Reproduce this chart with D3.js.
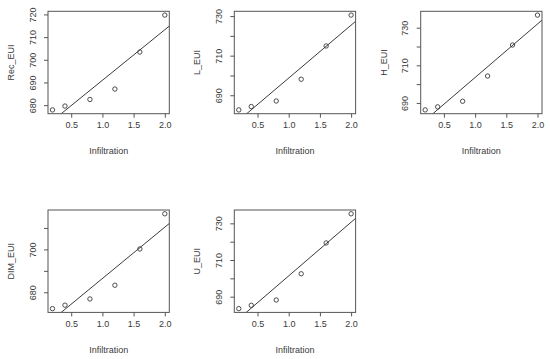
<!DOCTYPE html>
<html lang="en">
<head>
<meta charset="UTF-8">
<title>EUI vs Infiltration</title>
<script src="https://d3js.org/d3.v7.min.js"></script>
<style>
    body { margin: 0; background: #fff; }
    svg { font-family: "Liberation Sans", Arial, Helvetica, sans-serif; }
</style>
</head>
<body>
<script>
    // Data
    const infiltration = [0.2, 0.4, 0.8, 1.2, 1.6, 2.0];
    const recEUI = [677.9, 679.6, 682.5, 687.1, 703.4, 719.7];
    const lEUI   = [682.6, 684.3, 687.1, 698.1, 714.9, 730.5];
    const hEUI   = [686.3, 687.9, 690.9, 704.3, 720.8, 736.7];
    const dimEUI = [672.4, 674.0, 676.9, 683.3, 700.2, 716.6];
    const uEUI   = [683.5, 685.3, 688.2, 702.5, 719.3, 735.2];

    const panelNames = ["Rec_EUI", "L_EUI", "H_EUI", "DIM_EUI", "U_EUI"];
    const panelValues = [recEUI, lEUI, hEUI, dimEUI, uEUI];

    const xTicks = [0.5, 1.0, 1.5, 2.0];
    // y ticks every 10; only some carry a label (R drops overlapping ones)
    const yTicks = [
        [680, 690, 700, 710, 720],
        [690, 700, 710, 720, 730],
        [690, 700, 710, 720, 730],
        [680, 690, 700, 710],
        [690, 700, 710, 720, 730]
    ];
    const yLabels = [
        [680, 690, 700, 710, 720],
        [690, 710, 730],
        [690, 710, 730],
        [680, 700],
        [690, 710, 730]
    ];

    const width = 550, height = 359;
    const colLeft = [48, 234.3, 420.7];
    const rowTop = [11.3, 210];
    const boxW = 121.3, boxH = 102.4;
    const ink = "#3a3a3a";
    const fs = 9;

    const svg = d3.select("body").append("svg")
        .attr("width", width)
        .attr("height", height);

    // R-style axis range: data range padded by 4% each side
    function padded(ext) {
        const d = (ext[1] - ext[0]) * 0.04;
        return [ext[0] - d, ext[1] + d];
    }

    // least squares line, like abline(lm(y ~ x))
    function fit(xs, ys) {
        const mx = d3.mean(xs), my = d3.mean(ys);
        let sxy = 0, sxx = 0;
        xs.forEach((x, i) => { sxy += (x - mx) * (ys[i] - my); sxx += (x - mx) * (x - mx); });
        const b = sxy / sxx;
        return { a: my - b * mx, b: b };
    }

    panelNames.forEach((name, p) => {
        const left = colLeft[p % 3];
        const top = rowTop[Math.floor(p / 3)];
        const ys = panelValues[p];

        const x = d3.scaleLinear().domain(padded(d3.extent(infiltration))).range([0, boxW]);
        const y = d3.scaleLinear().domain(padded(d3.extent(ys))).range([boxH, 0]);

        const g = svg.append("g").attr("transform", `translate(${left},${top})`);

        g.append("clipPath").attr("id", "clip" + p)
            .append("rect").attr("width", boxW).attr("height", boxH);

        // regression line
        const m = fit(infiltration, ys);
        const xd = x.domain();
        g.append("line")
            .attr("clip-path", `url(#clip${p})`)
            .attr("x1", x(xd[0])).attr("y1", y(m.a + m.b * xd[0]))
            .attr("x2", x(xd[1])).attr("y2", y(m.a + m.b * xd[1]))
            .attr("stroke", ink)
            .attr("stroke-width", 1);

        // points
        g.selectAll("circle")
            .data(infiltration)
            .enter().append("circle")
            .attr("cx", d => x(d))
            .attr("cy", (d, i) => y(ys[i]))
            .attr("r", 2.2)
            .attr("fill", "none")
            .attr("stroke", ink)
            .attr("stroke-width", 0.9);

        // box
        g.append("rect")
            .attr("width", boxW).attr("height", boxH)
            .attr("fill", "none")
            .attr("stroke", "#555")
            .attr("stroke-width", 1);

        // x axis
        const xAxis = g.append("g")
            .attr("transform", `translate(0,${boxH})`)
            .call(d3.axisBottom(x).tickValues(xTicks).tickFormat(d3.format(".1f")).tickSize(4).tickPadding(4));
        xAxis.select(".domain").remove();
        xAxis.selectAll(".tick line").attr("stroke", "#555");
        xAxis.selectAll("text").attr("font-size", fs).attr("fill", ink);

        // y axis, labels parallel to axis
        const yAxis = g.append("g")
            .call(d3.axisLeft(y).tickValues(yTicks[p])
                .tickFormat(d => yLabels[p].includes(d) ? d : "").tickSize(4));
        yAxis.select(".domain").remove();
        yAxis.selectAll(".tick line").attr("stroke", "#555");
        yAxis.selectAll("text")
            .attr("font-size", fs)
            .attr("fill", ink)
            .attr("x", 0).attr("dy", 0)
            .attr("text-anchor", "middle")
            .attr("transform", "translate(-15.3,0) rotate(-90)")
            .attr("dominant-baseline", "central");

        // titles
        g.append("text")
            .attr("x", boxW / 2).attr("y", boxH + 37.5)
            .attr("text-anchor", "middle")
            .attr("dominant-baseline", "central")
            .attr("font-size", fs)
            .attr("fill", ink)
            .text("Infiltration");

        g.append("text")
            .attr("transform", `translate(-37,${boxH / 2}) rotate(-90)`)
            .attr("text-anchor", "middle")
            .attr("dominant-baseline", "central")
            .attr("font-size", fs)
            .attr("fill", ink)
            .text(name);
    });
</script>
</body>
</html>
